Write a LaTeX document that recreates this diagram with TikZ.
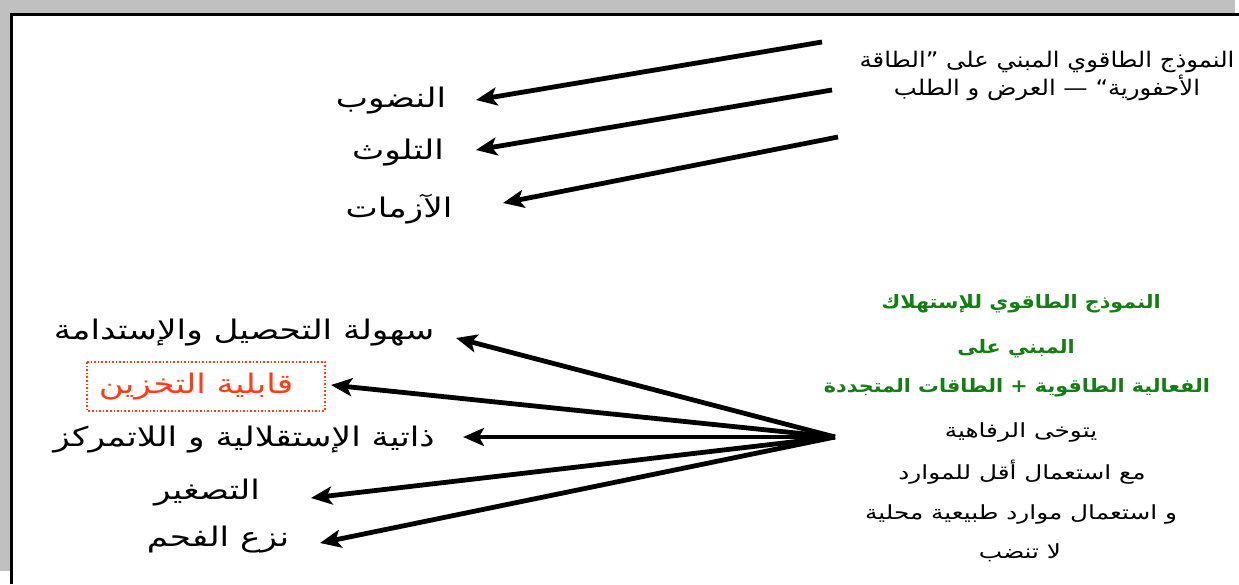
\documentclass[tikz,border=0pt]{standalone}
\usepackage{fontspec}
\usetikzlibrary{arrows.meta}
\TeXXeTstate=1
\newfontfamily\arabicbig[Script=Arabic,FakeStretch=1.27]{DejaVu Sans}
\newfontfamily\arabicgreen[Script=Arabic,FakeStretch=1.12]{DejaVu Sans}
\newfontfamily\arabicsmall[Script=Arabic,FakeStretch=1.27]{DejaVu Sans}
\newfontfamily\arabictop[Script=Arabic,FakeStretch=1.13]{DejaVu Sans}
\definecolor{frameGray}{RGB}{192,192,192}
\definecolor{darkGreen}{RGB}{20,125,20}
\definecolor{redOrange}{RGB}{255,60,20}
\tikzset{
  arr/.style={line width=4.8pt, -{Stealth[length=21pt,width=18pt,inset=5pt]}},
  biglabel/.style={font=\arabicbig\fontsize{27}{30}\selectfont, inner sep=2pt},
  greenline/.style={font=\arabicgreen\bfseries\fontsize{18.5}{21}\selectfont, text=darkGreen, inner sep=1pt},
  blackline/.style={font=\arabicsmall\fontsize{19.5}{22}\selectfont, inner sep=1pt},
  toptext/.style={font=\arabictop\fontsize{21.5}{28}\selectfont, align=center, inner sep=1pt},
}
\begin{document}
\begin{tikzpicture}[x=1pt,y=-1pt]
\useasboundingbox (0,0) rectangle (1239,584);
% background frame
\fill[white] (0,0) rectangle (1239,584);
\fill[frameGray] (0,0) rectangle (1235,13);
\fill[frameGray] (0,0) rectangle (10,571);
\draw[line width=3pt] (11.5,584) -- (11.5,14.5) -- (1239,14.5);

% top block
\node[toptext] (top) at (1047,76) {\beginR النموذج الطاقوي المبني على ”الطاقة\endR\\ \beginR الأحفورية“ — العرض و الطلب\endR};
\node[biglabel] (n1) at (391,101) {\beginR النضوب\endR};
\node[biglabel] (n2) at (398,153) {\beginR التلوث\endR};
\node[biglabel] (n3) at (399,209) {\beginR الآزمات\endR};

\coordinate (s1) at (822,42);
\coordinate (s2) at (832,90);
\coordinate (s3) at (838,137);
\coordinate (t1) at (476,100);
\coordinate (t2) at (476,150);
\coordinate (t3) at (503,203);
\draw[arr] (s1) -- (t1);
\draw[arr] (s2) -- (t2);
\draw[arr] (s3) -- (t3);

% bottom right block
\node[greenline] (g1) at (1021,304) {\beginR النموذج الطاقوي للإستهلاك\endR};
\node[greenline] (g2) at (1016,349) {\beginR المبني على\endR};
\node[greenline] (g3) at (1017,388) {\beginR الفعالية الطاقوية + الطاقات المتجددة\endR};
\node[blackline] (b1) at (1021,432) {\beginR يتوخى الرفاهية\endR};
\node[blackline] (b2) at (1022,472) {\beginR مع استعمال أقل للموارد\endR};
\node[blackline] (b3) at (1021,514) {\beginR و استعمال موارد طبيعية محلية\endR};
\node[blackline] (b4) at (1020,553) {\beginR لا تنضب\endR};

% bottom left labels
\node[biglabel] (m1) at (244,333) {\beginR سهولة التحصيل والإستدامة\endR};
\node[biglabel, text=redOrange] (m2) at (196,387) {\beginR قابلية التخزين\endR};
\draw[redOrange, line width=1.6pt, dotted] (87,362) rectangle (325,411);
\node[biglabel] (m3) at (244,440) {\beginR ذاتية الإستقلالية و اللاتمركز\endR};
\node[biglabel] (m4) at (207,493) {\beginR التصغير\endR};
\node[biglabel] (m5) at (218,540) {\beginR نزع الفحم\endR};

\coordinate (src) at (835,437);
\coordinate (u1) at (456,338);
\coordinate (u2) at (331,385);
\coordinate (u3) at (463,437);
\coordinate (u4) at (311,498);
\coordinate (u5) at (320,543);
\draw[arr] (src) -- (u1);
\draw[arr] (src) -- (u2);
\draw[arr] (src) -- (u3);
\draw[arr] (src) -- (u4);
\draw[arr] (src) -- (u5);
\end{tikzpicture}
\end{document}
